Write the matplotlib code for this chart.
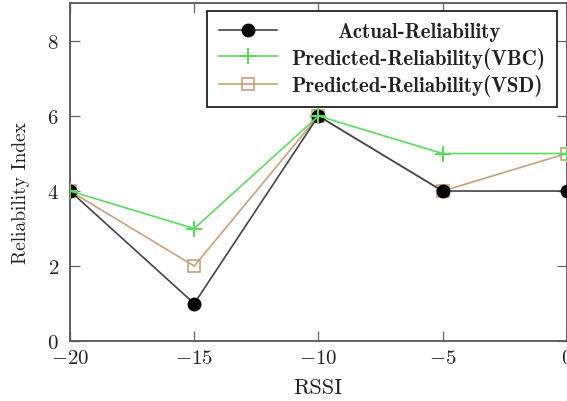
import matplotlib
matplotlib.use("Agg")
import matplotlib.pyplot as plt

plt.rcParams['font.family'] = 'serif'
plt.rcParams['font.serif'] = ['cmr10', 'DejaVu Serif']
plt.rcParams['mathtext.fontset'] = 'cm'
plt.rcParams['axes.formatter.use_mathtext'] = True
plt.rcParams['axes.unicode_minus'] = True

rssi = [-20, -15, -10, -5, 0]
actual = [4, 1, 6, 4, 4]
pred_vbc = [4, 3, 6, 5, 5]
pred_vsd = [4, 2, 6, 4, 5]
labels = ['Actual-Reliability', 'Predicted-Reliability(VBC)', 'Predicted-Reliability(VSD)']
xticks = [-20, -15, -10, -5, 0]
yticks = [0, 2, 4, 6, 8]

fig = plt.figure(figsize=(5.67, 4.02), dpi=100)
ax = fig.add_axes([0.1235, 0.149, 0.876, 0.840])

l3, = ax.plot(rssi, pred_vsd, color='#c9a07a', lw=1.2, marker='s', ms=9,
              mfc='none', mec='#c9a07a', mew=1.2, zorder=2, label=labels[2])
l1, = ax.plot(rssi, actual, color='#444444', lw=1.2, marker='o', ms=9,
              mfc='black', mec='black', zorder=3, label=labels[0])
l2, = ax.plot(rssi, pred_vbc, color='#5cdc5c', lw=1.2, marker='+', ms=11,
              mew=1.5, zorder=4, label=labels[1])

ax.set_xlim(-20, 0)
ax.set_ylim(0, 9)
ax.set_xticks(xticks)
ax.set_yticks(yticks)
ax.tick_params(direction='in', length=7, width=0.9, colors='#666666',
               labelcolor='#222222', labelsize=15, top=True, right=True)
ax.tick_params(axis='y', pad=8)
ax.tick_params(axis='x', pad=6)
for s in ax.spines.values():
    s.set_color('#555555')
    s.set_linewidth(1.3)

ax.set_xlabel('RSSI', fontsize=16, color='#222222', labelpad=7)
ax.set_ylabel('Reliability Index', fontsize=14, color='#222222')
ax.yaxis.set_label_coords(-0.08, 0.44)

leg = ax.legend(handles=[l1, l2, l3], loc='upper right',
                bbox_to_anchor=(557 / 567, 1 - 12 / 402),
                bbox_transform=fig.transFigure, borderaxespad=0,
                fancybox=False, edgecolor='#222222', framealpha=1,
                handlelength=2.8, handletextpad=0.7,
                prop={'family': 'cmb10', 'size': 15}, borderpad=0.55,
                labelspacing=0.25)
leg.get_frame().set_linewidth(1.3)
for t in leg.get_texts():
    t.set_color('#222222')

# centre the first legend entry's text over the longer ones
fig.canvas.draw()
r = fig.canvas.get_renderer()
widths = [t.get_window_extent(r).width for t in leg.get_texts()]
leg.get_texts()[0].set_x((max(widths) - widths[0]) / 2)

fig.savefig('out.png', dpi=100)
